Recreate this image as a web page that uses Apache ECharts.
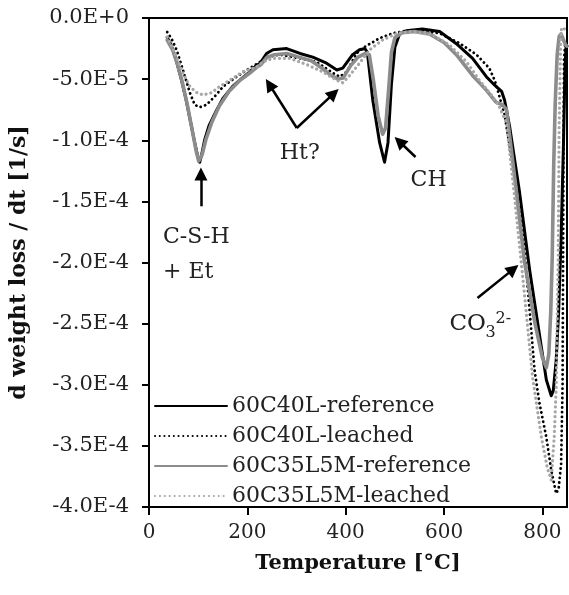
<!DOCTYPE html>
<html>
<head>
<meta charset="utf-8">
<script src="https://cdn.jsdelivr.net/npm/echarts@6/dist/echarts.min.js"></script>
<style>html,body{margin:0;padding:0;background:#fff}#c{width:569px;height:595px}</style>
</head>
<body>
<div id="c"></div>
<script>
// ---- data (temperature in °C, d weight loss / dt in 1/s) ----
const seriesNames = ['60C40L-reference', '60C40L-leached', '60C35L5M-reference', '60C35L5M-leached'];
const xTicks = [0, 200, 400, 600, 800];

const t_ref40 = [37, 45, 55, 65, 75, 85, 93, 99, 103, 107, 113, 122, 138, 150, 170, 190, 205, 218, 226, 239, 252, 280, 307, 333, 361, 382, 394, 414, 428, 439, 444, 455, 469, 479, 486, 493, 500, 510, 523, 556, 591, 625, 658, 686, 703, 717, 723, 733, 753, 774, 794, 808, 818, 822, 828, 833, 838, 843, 846, 848, 850];
const v_ref40 = [-1.6e-5, -2.2e-5, -3.4e-5, -4.9e-5, -6.6e-5, -8.6e-5, -10.2e-5, -11.3e-5, -11.8e-5, -11.2e-5, -10.0e-5, -8.8e-5, -7.5e-5, -6.6e-5, -5.6e-5, -4.9e-5, -4.4e-5, -3.9e-5, -3.7e-5, -2.9e-5, -2.6e-5, -2.5e-5, -2.9e-5, -3.2e-5, -3.7e-5, -4.25e-5, -4.1e-5, -3.0e-5, -2.6e-5, -2.5e-5, -2.8e-5, -6.7e-5, -10.2e-5, -11.8e-5, -10.2e-5, -5.4e-5, -2.4e-5, -1.25e-5, -1.05e-5, -0.9e-5, -1.1e-5, -2.1e-5, -3.3e-5, -4.8e-5, -5.5e-5, -6.0e-5, -6.7e-5, -8.8e-5, -14.1e-5, -20.6e-5, -25.9e-5, -29.6e-5, -30.9e-5, -30.5e-5, -28.0e-5, -24.0e-5, -18.0e-5, -10.0e-5, -4.0e-5, -2.4e-5, -2.3e-5];

const t_lea40 = [37, 46, 56, 69, 83, 93, 103, 117, 134, 151, 178, 205, 222, 239, 266, 307, 341, 374, 388, 402, 422, 439, 469, 496, 523, 556, 591, 631, 666, 692, 703, 709, 723, 743, 763, 784, 794, 808, 818, 828, 833, 838, 841, 842, 843, 844, 846, 850];
const v_lea40 = [-1.15e-5, -1.7e-5, -2.6e-5, -4.25e-5, -6.1e-5, -7.1e-5, -7.3e-5, -7.1e-5, -6.4e-5, -5.6e-5, -4.8e-5, -4.1e-5, -3.7e-5, -3.2e-5, -3.0e-5, -3.3e-5, -3.6e-5, -4.5e-5, -4.8e-5, -4.4e-5, -2.9e-5, -2.35e-5, -1.65e-5, -1.25e-5, -1.05e-5, -1.05e-5, -1.25e-5, -2.05e-5, -3.0e-5, -4.1e-5, -5.1e-5, -5.9e-5, -7.9e-5, -12.8e-5, -18.6e-5, -28.8e-5, -31.5e-5, -34.3e-5, -37.0e-5, -38.9e-5, -38.5e-5, -36.5e-5, -30.0e-5, -20.0e-5, -10.0e-5, -3.4e-5, -2.2e-5, -2.0e-5];

const t_ref35 = [37, 48, 58, 68, 78, 88, 96, 101, 104, 108, 116, 128, 143, 163, 185, 205, 220, 228, 240, 255, 280, 305, 330, 355, 370, 385, 395, 410, 425, 440, 448, 456, 466, 475, 481, 487, 493, 500, 515, 540, 570, 600, 625, 658, 686, 706, 719, 727, 745, 763, 785, 800, 808, 813, 817, 820, 823, 826, 830, 834, 838, 843, 847, 850];
const v_ref35 = [-1.8e-5, -2.6e-5, -3.8e-5, -5.3e-5, -7.1e-5, -9.2e-5, -10.9e-5, -11.7e-5, -11.8e-5, -11.2e-5, -9.9e-5, -8.5e-5, -7.2e-5, -6.0e-5, -5.1e-5, -4.5e-5, -4.0e-5, -3.8e-5, -3.2e-5, -3.0e-5, -2.9e-5, -3.2e-5, -3.5e-5, -4.2e-5, -4.7e-5, -5.0e-5, -4.9e-5, -3.9e-5, -3.2e-5, -2.9e-5, -3.0e-5, -5.0e-5, -8.0e-5, -9.5e-5, -9.0e-5, -6.0e-5, -2.8e-5, -1.6e-5, -1.2e-5, -1.1e-5, -1.3e-5, -2.0e-5, -3.0e-5, -4.7e-5, -5.9e-5, -6.9e-5, -7.1e-5, -7.5e-5, -13.5e-5, -19.8e-5, -25.0e-5, -27.8e-5, -28.6e-5, -27.5e-5, -24.0e-5, -19.5e-5, -12.0e-5, -7.0e-5, -3.0e-5, -1.5e-5, -1.3e-5, -1.8e-5, -2.2e-5, -2.3e-5];

const t_lea35 = [37, 46, 56, 69, 83, 97, 110, 128, 144, 164, 191, 219, 231, 252, 286, 320, 353, 382, 394, 408, 428, 449, 475, 504, 536, 577, 611, 646, 672, 698, 713, 727, 743, 759, 780, 798, 810, 818, 824, 828, 832, 834, 837, 839, 845];
const v_lea35 = [-1.55e-5, -2.3e-5, -3.2e-5, -4.5e-5, -5.6e-5, -6.1e-5, -6.3e-5, -6.1e-5, -5.6e-5, -5.1e-5, -4.4e-5, -4.0e-5, -3.6e-5, -3.3e-5, -3.3e-5, -3.8e-5, -4.4e-5, -5.1e-5, -5.3e-5, -4.7e-5, -3.7e-5, -2.6e-5, -1.8e-5, -1.25e-5, -1.1e-5, -1.4e-5, -2.2e-5, -3.6e-5, -5.1e-5, -6.4e-5, -7.3e-5, -8.6e-5, -14.5e-5, -20.8e-5, -29.4e-5, -34.3e-5, -36.8e-5, -37.8e-5, -34.3e-5, -30.2e-5, -20.0e-5, -9.0e-5, -2.0e-5, -0.8e-5, -0.9e-5];

// annotation arrows: [fromT, fromV, toT, toV]
const arrows = [
  [105.6, -15.4e-5, 105.6, -12.76e-5],
  [300.5, -9.0e-5, 244.7, -5.44e-5],
  [300.5, -9.0e-5, 376, -6.17e-5],
  [542, -11.37e-5, 509, -10.1e-5],
  [668, -22.9e-5, 741, -20.54e-5]
];
// annotation labels: [T, v, text, align]
const labels = [
  [28.4, -17.9e-5, 'C-S-H', 'left'],
  [28.4, -20.8e-5, '+ Et', 'left'],
  [306.6, -11.1e-5, 'Ht?', 'center'],
  [568.5, -13.3e-5, 'CH', 'center']
];
const co3Label = [611, -25.0e-5];

const FONT = 'DejaVu Serif';
const zip = (t, v) => t.map((x, i) => [x, v[i]]);

const lineSeries = [
  {name: seriesNames[0], data: zip(t_ref40, v_ref40), color: '#000000', width: 3, type: 'solid'},
  {name: seriesNames[1], data: zip(t_lea40, v_lea40), color: '#000000', width: 2.8, type: [0.1, 4.6]},
  {name: seriesNames[2], data: zip(t_ref35, v_ref35), color: '#8c8c8c', width: 3.6, type: 'solid'},
  {name: seriesNames[3], data: zip(t_lea35, v_lea35), color: '#a6a6a6', width: 3.2, type: [0.1, 4.8]}
].map((s, i) => ({
  name: s.name,
  type: 'line',
  data: s.data,
  symbol: 'none',
  showSymbol: false,
  smooth: false,
  clip: true,
  z: 2 + i,
  itemStyle: {color: s.color},
  lineStyle: {color: s.color, width: s.width, type: s.type, cap: 'round', join: 'round'},
  emphasis: {disabled: true}
}));

lineSeries[0].markLine = {
  silent: true,
  symbol: ['none', 'triangle'],
  symbolSize: 13,
  label: {show: false},
  lineStyle: {color: '#000', width: 2.5, type: 'solid'},
  emphasis: {disabled: true},
  data: arrows.map(a => [{coord: [a[0], a[1]]}, {coord: [a[2], a[3]]}])
};

const chart = echarts.init(document.getElementById('c'), null, {renderer: 'canvas'});
const option = {
  animation: false,
  backgroundColor: '#fff',
  grid: {left: 149, right: 2, top: 18, bottom: 88, show: true, borderColor: '#000', borderWidth: 2, backgroundColor: 'transparent'},
  legend: {
    data: seriesNames,
    orient: 'vertical',
    left: 154, top: 395, padding: 0,
    itemWidth: 72, itemHeight: 14, itemGap: 8,
    itemStyle: {opacity: 0, borderWidth: 0},
    textStyle: {fontFamily: FONT, fontSize: 22, color: '#222', lineHeight: 22},
    selectedMode: false
  },
  xAxis: {
    type: 'value', min: 0, max: 850, interval: 200,
    axisLine: {show: true, onZero: false, lineStyle: {color: '#000', width: 2}},
    axisTick: {show: true, length: 8, lineStyle: {color: '#000', width: 2}},
    axisLabel: {fontFamily: FONT, fontSize: 20, color: '#222', margin: 16, showMaxLabel: false,
      formatter: v => (xTicks.indexOf(v) >= 0 ? String(v) : '')},
    splitLine: {show: false},
    name: 'Temperature [°C]', nameLocation: 'middle', nameGap: 46,
    nameTextStyle: {fontFamily: FONT, fontWeight: 'bold', fontSize: 21, color: '#111'}
  },
  yAxis: {
    type: 'value', min: -4e-4, max: 0, interval: 5e-5,
    axisLine: {show: true, onZero: false, lineStyle: {color: '#000', width: 2}},
    axisTick: {show: true, length: 7, lineStyle: {color: '#000', width: 2}},
    axisLabel: {fontFamily: FONT, fontSize: 21, color: '#222', margin: 20,
      formatter: v => Number(v).toExponential(1).toUpperCase()},
    splitLine: {show: false},
    name: 'd weight loss / dt [1/s]', nameLocation: 'middle', nameGap: 119,
    nameTextStyle: {fontFamily: FONT, fontWeight: 'bold', fontSize: 22, color: '#111'}
  },
  series: lineSeries
};
chart.setOption(option);

// annotation texts placed at data coordinates
const g = labels.map(l => {
  const p = chart.convertToPixel({gridIndex: 0}, [l[0], l[1]]);
  return {type: 'text', x: p[0], y: p[1], z: 100,
    style: {text: l[2], fontFamily: FONT, fontSize: 22, fill: '#222', align: l[3], verticalAlign: 'middle'}};
});
const pc = chart.convertToPixel({gridIndex: 0}, co3Label);
g.push({type: 'text', x: pc[0], y: pc[1], z: 100, style: {text: 'CO', fontFamily: FONT, fontSize: 23, fill: '#222', align: 'left', verticalAlign: 'middle'}});
g.push({type: 'text', x: pc[0] + 36, y: pc[1] + 9, z: 100, style: {text: '3', fontFamily: FONT, fontSize: 16, fill: '#222', align: 'left', verticalAlign: 'middle'}});
g.push({type: 'text', x: pc[0] + 46, y: pc[1] - 5, z: 100, style: {text: '2-', fontFamily: FONT, fontSize: 16, fill: '#222', align: 'left', verticalAlign: 'middle'}});
chart.setOption({graphic: g});
</script>
</body>
</html>
